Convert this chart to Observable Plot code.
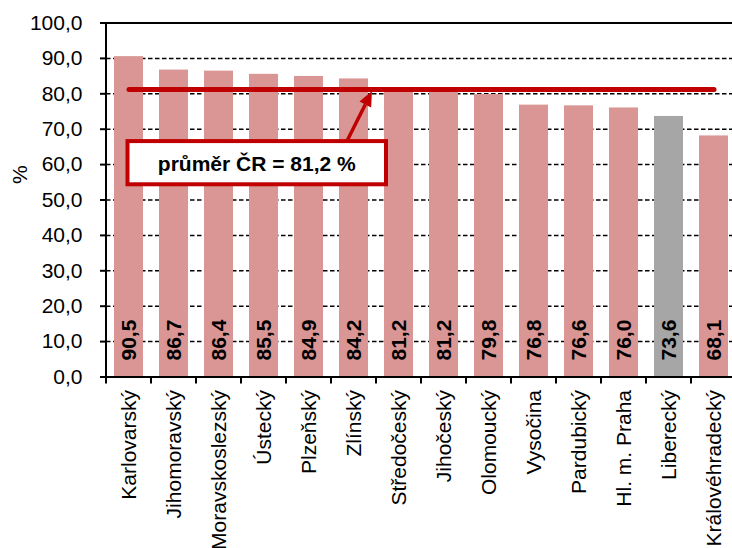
<!DOCTYPE html>
<html>
<head>
<meta charset="utf-8">
<script src="https://cdn.jsdelivr.net/npm/d3@7"></script>
<script src="https://cdn.jsdelivr.net/npm/@observablehq/plot@0.6"></script>
<style>
  html, body { margin: 0; padding: 0; background: #fff; }
  #chart svg { display: block; overflow: visible; }
</style>
</head>
<body>
<div id="chart"></div>
<script>
const regions = ["Karlovarský", "Jihomoravský", "Moravskoslezský", "Ústecký", "Plzeňský", "Zlínský", "Středočeský", "Jihočeský", "Olomoucký", "Vysočina", "Pardubický", "Hl. m. Praha", "Liberecký", "Královéhradecký"];
const values = [90.5, 86.7, 86.4, 85.5, 84.9, 84.2, 81.2, 81.2, 79.8, 76.8, 76.6, 76.0, 73.6, 68.1];
const highlighted = ["Liberecký"];
const average = 81.2;
const averageLabel = "průměr ČR = 81,2 %";
const yTicks = [0, 10, 20, 30, 40, 50, 60, 70, 80, 90, 100];
const gridTicks = [10, 20, 30, 40, 50, 60, 70, 80, 90];

const data = regions.map((r, i) => ({region: r, value: values[i]}));
const fmt = v => v.toFixed(1).replace(".", ",");

const PINK = "#D99694", GREY = "#A6A6A6", RED = "#C00000";
const FONT = "'Liberation Sans', Arial, Helvetica, sans-serif";
const FS = 21;

function bandInfo(x) {
  const step = typeof x.step === "function" ? x.step() : (x(regions[1]) - x(regions[0]));
  const bw = typeof x.bandwidth === "function" ? x.bandwidth() : step * 0.65;
  return {step, bw, boundary: r => x(r) + bw / 2 - step / 2, center: r => x(r) + bw / 2};
}

// left axis line + x ticks at category boundaries
function axisFrame(index, scales) {
  const x = scales.x, y = scales.y;
  const {step, boundary} = bandInfo(x);
  const g = d3.create("svg:g").attr("stroke", "black");
  const x0 = boundary(regions[0]);
  g.append("line").attr("x1", x0).attr("x2", x0).attr("y1", y(100)).attr("y2", y(0)).attr("stroke-width", 2);
  const bounds = regions.map(boundary).concat([boundary(regions[regions.length - 1]) + step]);
  for (const bx of bounds) {
    g.append("line").attr("x1", bx).attr("x2", bx).attr("y1", y(0)).attr("y2", y(0) + 7).attr("stroke-width", 2);
  }
  return g.node();
}

// callout box with arrow pointing to the average line
function callout(index, scales) {
  const x = scales.x, y = scales.y;
  const {center, boundary} = bandInfo(x);
  const left = center(regions[0]) - 1;
  const right = boundary("Středočeský") + 10;
  const top = y(66.5), bottom = y(54.3);
  const g = d3.create("svg:g");
  // arrow
  const tipX = boundary("Středočeský") - 4, tipY = y(average) + 2;
  const tailX = tipX - 25, tailY = top;
  const ang = Math.atan2(tipY - tailY, tipX - tailX);
  const hl = 15, hw = 6.5;
  const bx = tipX - hl * Math.cos(ang), by = tipY - hl * Math.sin(ang);
  g.append("line").attr("x1", tailX).attr("y1", tailY).attr("x2", bx).attr("y2", by)
    .attr("stroke", RED).attr("stroke-width", 3.5);
  const px = -Math.sin(ang), py = Math.cos(ang);
  g.append("path")
    .attr("d", `M${tipX},${tipY}L${bx + hw * px},${by + hw * py}L${bx - hw * px},${by - hw * py}Z`)
    .attr("fill", RED);
  g.append("rect").attr("x", left).attr("y", top).attr("width", right - left).attr("height", bottom - top)
    .attr("fill", "white").attr("stroke", RED).attr("stroke-width", 4);
  g.append("text").attr("x", (left + right) / 2).attr("y", (top + bottom) / 2 + 1)
    .attr("text-anchor", "middle").attr("dominant-baseline", "central")
    .attr("font-family", FONT).attr("font-size", FS).attr("font-weight", "bold").attr("fill", "#000")
    .text(averageLabel);
  return g.node();
}

const chart = Plot.plot({
  width: 732,
  height: 548,
  marginLeft: 106,
  marginRight: 0,
  marginTop: 22.5,
  marginBottom: 171.5,
  style: {fontFamily: FONT, fontSize: FS + "px", color: "black", background: "white", overflow: "visible"},
  x: {domain: regions, range: [106, 736], paddingInner: 0.35, paddingOuter: 0.175, label: null},
  y: {domain: [0, 100], label: null},
  marks: [
    Plot.ruleY(gridTicks, {stroke: "black", strokeWidth: 1.5, strokeDasharray: "4.5,2.5"}),
    Plot.barY(data, {x: "region", y: "value", fill: d => highlighted.includes(d.region) ? GREY : PINK}),
    Plot.ruleY([100], {stroke: "black", strokeWidth: 2}),
    Plot.ruleY([0], {stroke: "black", strokeWidth: 2}),
    axisFrame,
    Plot.axisY({ticks: yTicks, tickFormat: fmt, tickSize: 6, tickPadding: 18, strokeWidth: 2, fontSize: FS, label: null}),
    Plot.text(["%"], {frameAnchor: "left", dx: -86, y: 50, dy: -16, rotate: -90, fontSize: FS, fill: "black"}),
    Plot.axisX({tickSize: 0, tickPadding: 13, tickRotate: -90, fontSize: FS, label: null}),
    Plot.text(data, {x: "region", y: 0, text: d => fmt(d.value), rotate: -90, textAnchor: "start", dy: -16.5, fontSize: FS, fontWeight: "bold", fill: "black"}),
    Plot.lineY(regions, {x: d => d, y: () => average, stroke: RED, strokeWidth: 5, strokeLinecap: "round"}),
    callout
  ]
});
document.getElementById("chart").appendChild(chart);
</script>
</body>
</html>
